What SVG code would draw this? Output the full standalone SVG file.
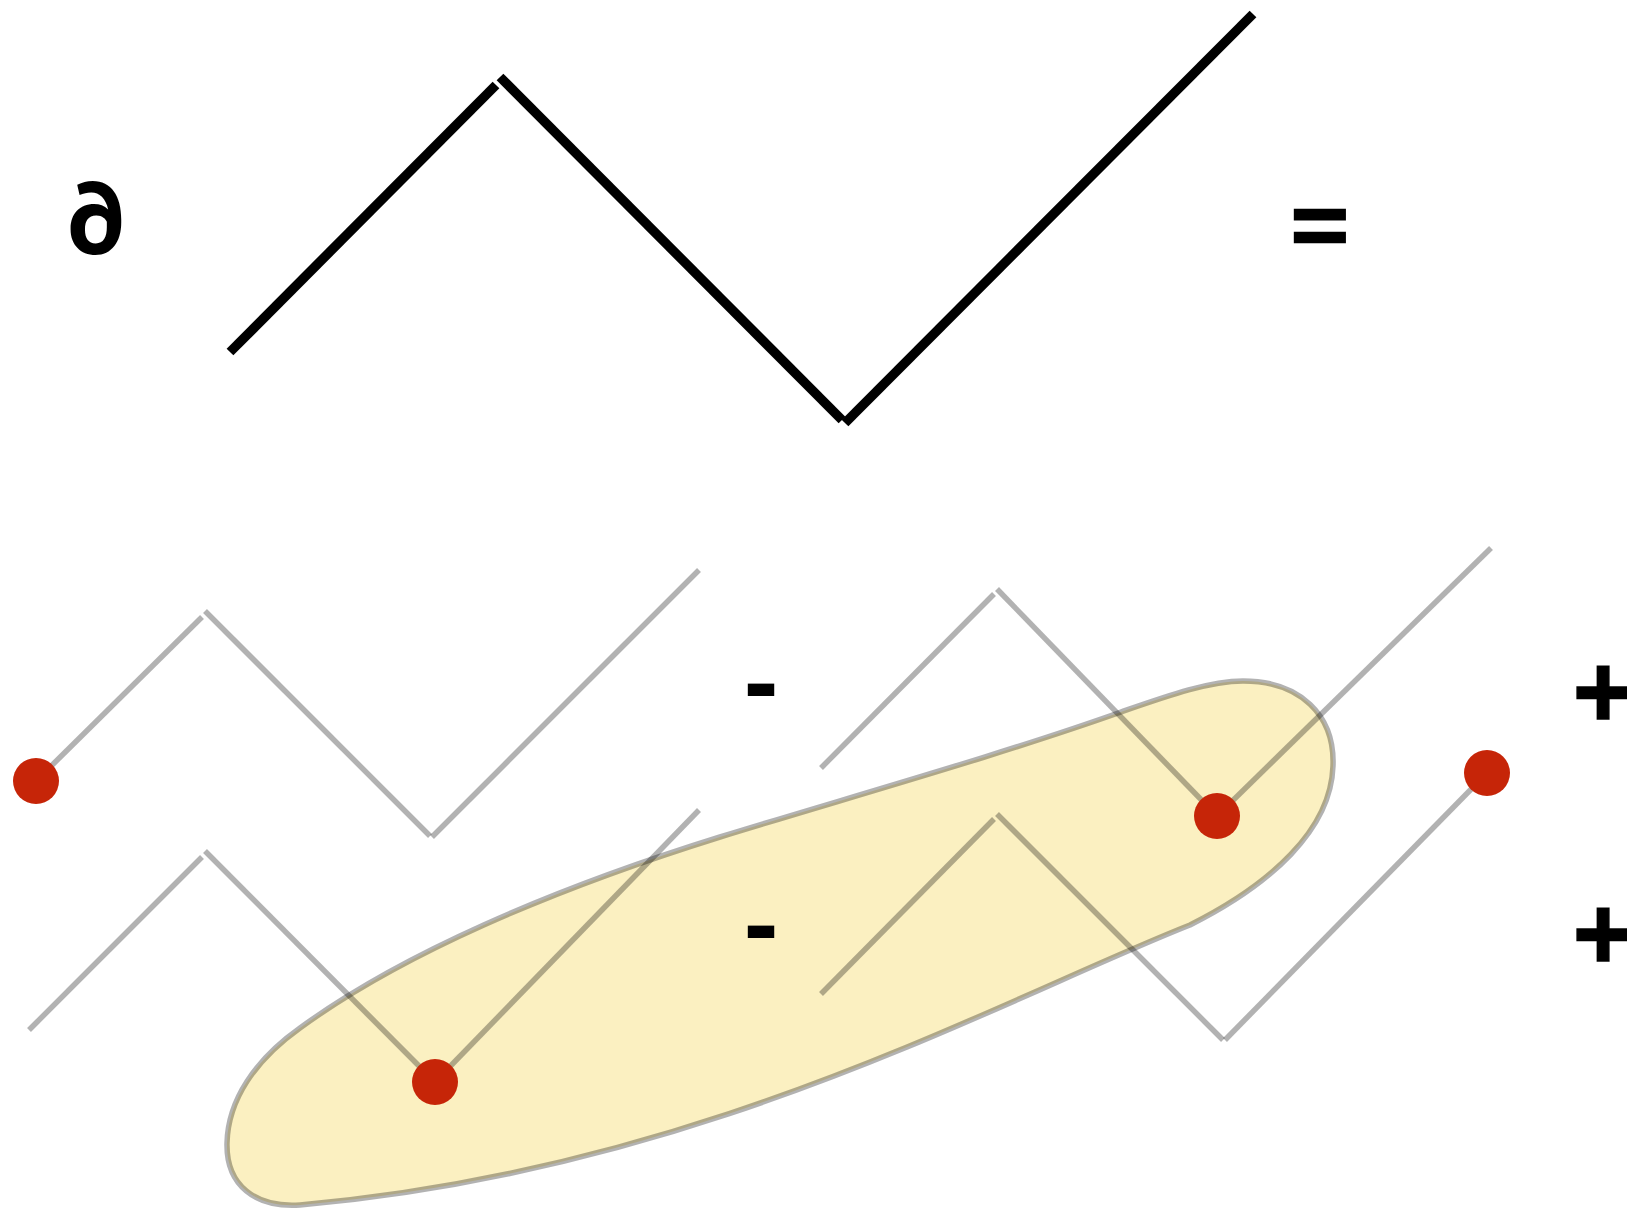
<svg xmlns="http://www.w3.org/2000/svg" width="1627" height="1210" viewBox="0 0 1627 1210">
<style>
.blk{stroke:#000;stroke-width:9.5;fill:none;stroke-linecap:butt}
.gry{stroke:#000;stroke-opacity:0.3;stroke-width:5.5;fill:none;stroke-linecap:butt}
.dot{fill:#c62508}
.sym{font-family:"Liberation Sans",Arial,sans-serif;font-weight:bold;font-size:104px;fill:#000;text-anchor:middle}
.pd{font-family:Inter,Roboto,"DejaVu Sans",sans-serif;font-weight:bold;font-size:99px;fill:#000;text-anchor:middle}
</style>
<rect width="1627" height="1210" fill="#fff"/>
<g id="blob">
<path d="M1243,681 C1300,681 1335,715 1333,766 C1331,830 1270,885 1190,925 C1000,1000 700,1170 300,1205 C255,1208 226,1185 227,1143 C228,1100 255,1060 300,1028 C400,955 550,890 720,837 C850,797 1000,755 1121,712 C1170,695 1210,681 1243,681 Z" fill="#fbf0c1" stroke="#000" stroke-opacity="0.3" stroke-width="5.5"/>
</g>
<g id="connectors">
<g id="main-zigzag">
<line class="blk" x1="230" y1="352" x2="496" y2="85"/>
<line class="blk" x1="500" y1="77" x2="842" y2="420"/>
<line class="blk" x1="845" y1="423" x2="1253" y2="14"/>
</g>
<g id="zigzag-top-left">
<line class="gry" x1="36" y1="781" x2="202" y2="617"/>
<line class="gry" x1="205" y1="611" x2="430" y2="836"/>
<line class="gry" x1="432" y1="837" x2="699" y2="570"/>
</g>
<g id="zigzag-bottom-left">
<line class="gry" x1="29" y1="1030" x2="202" y2="857"/>
<line class="gry" x1="205" y1="851" x2="435" y2="1082"/>
<line class="gry" x1="435" y1="1082" x2="699" y2="810"/>
</g>
<g id="zigzag-top-right">
<line class="gry" x1="821" y1="768" x2="994" y2="594"/>
<line class="gry" x1="997" y1="589" x2="1217" y2="816"/>
<line class="gry" x1="1217" y1="816" x2="1491" y2="548"/>
</g>
<g id="zigzag-bottom-right">
<line class="gry" x1="821" y1="994" x2="994" y2="819"/>
<line class="gry" x1="997" y1="814" x2="1223" y2="1040"/>
<line class="gry" x1="1225" y1="1040" x2="1487" y2="773"/>
</g>
</g>
<g id="dot-1"><circle class="dot" cx="36" cy="781" r="23"/></g>
<g id="dot-2"><circle class="dot" cx="435" cy="1082" r="23"/></g>
<g id="dot-3"><circle class="dot" cx="1217" cy="816" r="23"/></g>
<g id="dot-4"><circle class="dot" cx="1487" cy="773" r="23"/></g>
<g id="partial"><text class="pd" x="96" y="254">∂</text></g>
<g id="equals"><text class="sym" x="1320" y="0" transform="translate(0,254) scale(1,0.85)" style="font-size:98px;stroke:#000;stroke-width:3">=</text></g>
<g id="minus-1"><text class="sym" x="761" y="717">-</text></g>
<g id="minus-2"><text class="sym" x="761" y="959">-</text></g>
<g id="plus-1"><text class="sym" x="1603" y="727" style="stroke:#000;stroke-width:1.5">+</text></g>
<g id="plus-2"><text class="sym" x="1603" y="969" style="stroke:#000;stroke-width:1.5">+</text></g>
</svg>
